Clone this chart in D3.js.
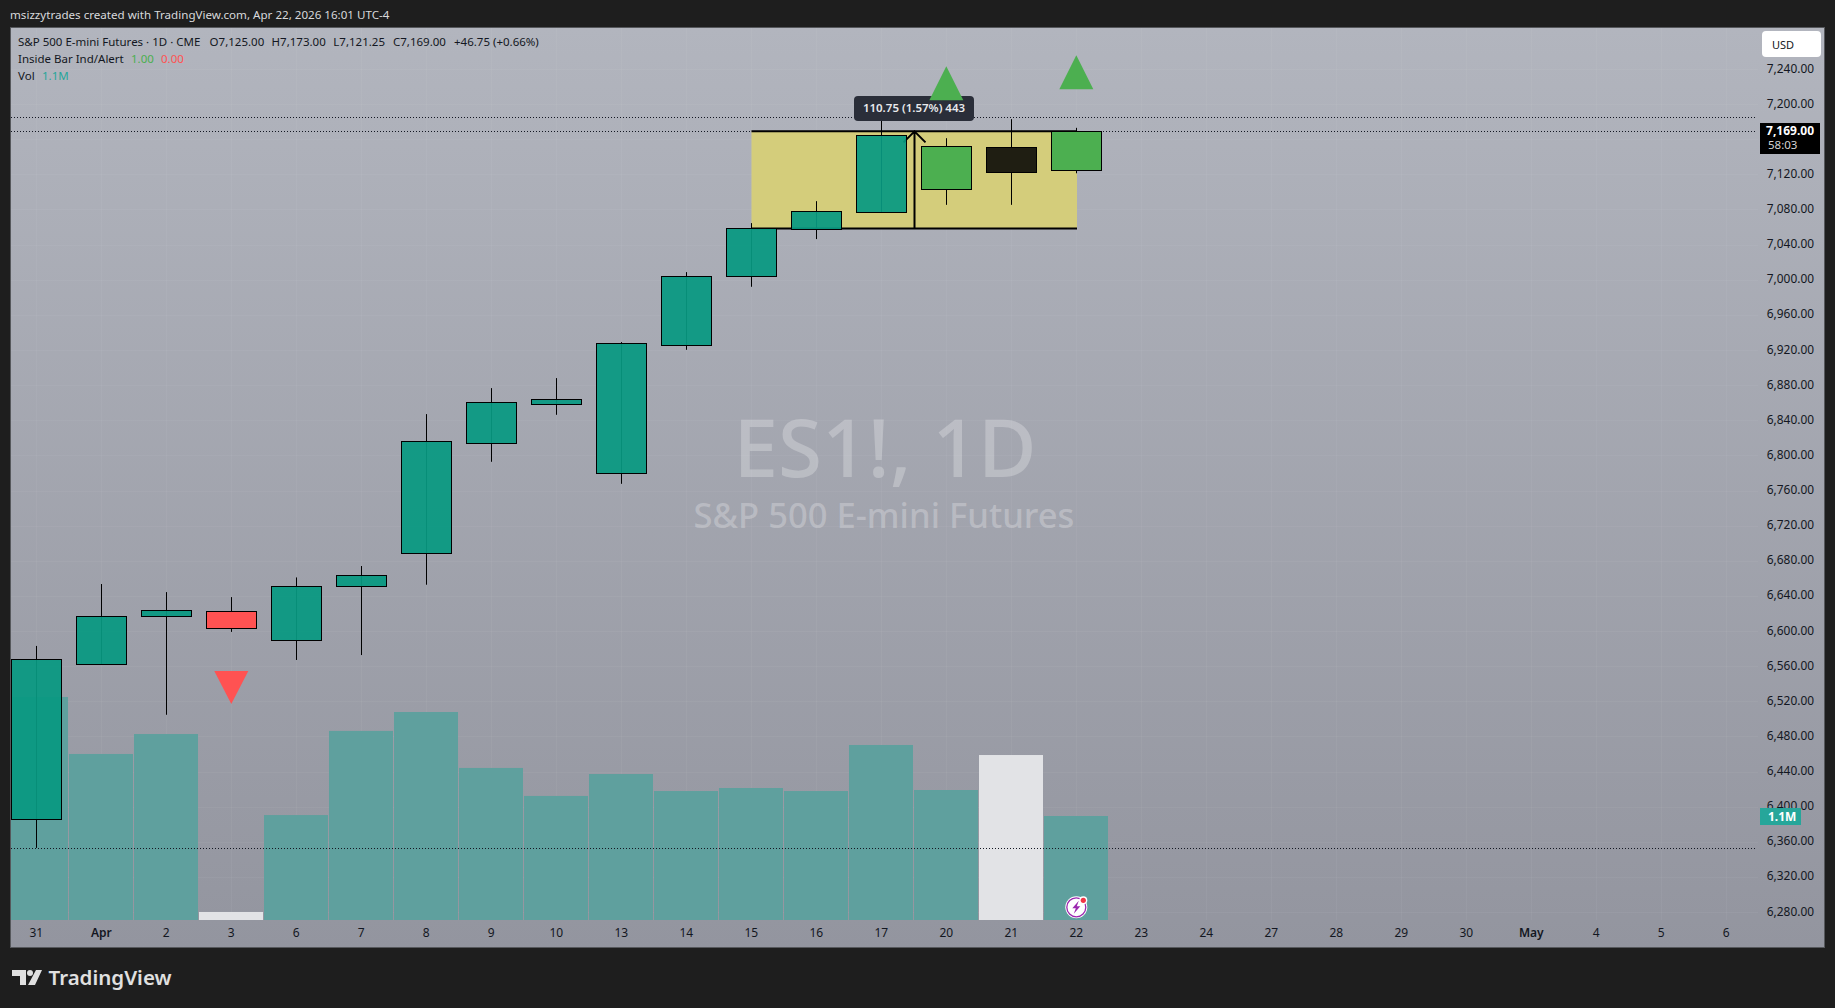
<!doctype html>
<html lang="en">
  <head>
    <meta charset="utf-8">
    <title>ES1! 1D</title>
    <style>
      html, body { margin: 0; padding: 0; background: #1e1e1e; overflow: hidden; }
      text { font-family: "Noto Sans", sans-serif; }
    </style>
  </head>
  <body>
    <script src="https://cdn.jsdelivr.net/npm/d3@7"></script>
    <script>
      var dates = ["03-31","04-01","04-02","04-03","04-06","04-07","04-08","04-09","04-10","04-13","04-14","04-15","04-16","04-17","04-20","04-21","04-22",
                   "04-23","04-24","04-27","04-28","04-29","04-30","05-01","05-04","05-05","05-06"];
      var dayLabels = ["31","Apr","2","3","6","7","8","9","10","13","14","15","16","17","20","21","22","23","24","27","28","29","30","May","4","5","6"];

      var opens  = [6385.5,6562,6617.4,6622.4,6589.3,6650.8,6688.4,6813.6,6858,6779.5,6925.6,7003.8,7057.3,7076.7,7102.8,7122.2,7125];
      var highs  = [6583,6653.5,6644.3,6638.6,6661,6674,6847,6876.6,6888,6929,7008.7,7064.5,7089.5,7185.7,7161.2,7182.9,7173];
      var lows   = [6353,6562,6504.6,6599,6567,6572.6,6652.7,6792.7,6846.2,6767.6,6920.2,6992,7046.3,7076.7,7085.3,7085.3,7121.25];
      var closes = [6567.7,6616.7,6623.5,6603,6650.8,6663.4,6816,6860.3,6863.7,6927.8,7003.8,7058.4,7077.8,7164.3,7151.8,7150.7,7169];
      var kinds  = ["up","up","up","down","up","up","up","up","up","up","up","up","up","up","inside","dark","inside"];

      // volume in millions
      var volumes = [2.359,1.756,1.967,0.085,1.11,2.0,2.2,1.608,1.312,1.544,1.364,1.396,1.364,1.851,1.375,1.745,1.1];
      var volKinds = ["up","up","up","white","up","up","up","up","up","up","up","up","up","up","up","white","up"];

      var priceTicks = [7240,7200,7120,7080,7040,7000,6960,6920,6880,6840,6800,6760,6720,6680,6640,6600,6560,6520,6480,6440,6400,6360,6320,6280];
      var gridPrices = [7240,7200,7160,7120,7080,7040,7000,6960,6920,6880,6840,6800,6760,6720,6680,6640,6600,6560,6520,6480,6440,6400,6360,6320,6280];

      var upMarks = [{i: 14, price: 7204.5}, {i: 16, price: 7217}];
      var downMarks = [{i: 3, price: 6554.4}];

      var lastClose = 7169, rangeHigh = 7185.7, rangeLow = 6353;
      var boxTop = 7169, boxBottom = 7058.25;

      var width = 1835, height = 1008;
      var plot = {left: 11, top: 28, right: 1758, bottom: 920};

      var svg = d3.select("body").append("svg")
        .attr("width", width)
        .attr("height", height)
        .style("display", "block");

      var defs = svg.append("defs");
      var grad = defs.append("linearGradient").attr("id", "bg").attr("x1", 0).attr("y1", 0).attr("x2", 0).attr("y2", 1);
      grad.append("stop").attr("offset", "0%").attr("stop-color", "#b2b5be");
      grad.append("stop").attr("offset", "100%").attr("stop-color", "#93959f");
      defs.append("clipPath").attr("id", "plotclip").append("rect")
        .attr("x", plot.left).attr("y", plot.top)
        .attr("width", plot.right - plot.left).attr("height", plot.bottom - plot.top);

      // scales
      var x = d3.scaleBand()
        .domain(dates)
        .range([3.8, 1758.8])
        .paddingInner(1 / 65)
        .paddingOuter(1 / 130);
      var cx = function(i){ return Math.floor(x(dates[i]) + x.bandwidth() / 2) + 0.5; };

      var y = d3.scaleLinear()
        .domain([6280, 7240])
        .range([912, 69]);
      var yVol = d3.scaleLinear()
        .domain([0, 1.1])
        .range([920, 816]);

      // frame
      svg.append("rect")
        .attr("x", 10.5).attr("y", 27.5)
        .attr("width", 1814).attr("height", 920)
        .attr("fill", "url(#bg)")
        .attr("stroke", "#56585c");

      // grid
      var grid = svg.append("g").attr("stroke", "#ffffff").attr("stroke-opacity", 0.045);
      grid.selectAll(".vg").data(dates).enter().append("line")
        .attr("x1", function(d, i){ return cx(i); })
        .attr("x2", function(d, i){ return cx(i); })
        .attr("y1", plot.top).attr("y2", plot.bottom);
      grid.selectAll(".hg").data(gridPrices).enter().append("line")
        .attr("x1", plot.left).attr("x2", plot.right)
        .attr("y1", function(d){ return Math.round(y(d)) + 0.5; })
        .attr("y2", function(d){ return Math.round(y(d)) + 0.5; });

      // watermark
      svg.append("text").attr("x", 885).attr("y", 477)
        .attr("text-anchor", "middle").attr("font-size", 80).attr("font-weight", 500)
        .attr("fill", "#ffffff").attr("fill-opacity", 0.26)
        .text("ES1!, 1D");
      svg.append("text").attr("x", 884).attr("y", 528)
        .attr("text-anchor", "middle").attr("font-size", 34.6).attr("font-weight", 500)
        .attr("fill", "#ffffff").attr("fill-opacity", 0.26)
        .text("S&P 500 E-mini Futures");

      var chart = svg.append("g").attr("clip-path", "url(#plotclip)");

      // volume
      var volColor = {up: "#5fa09e", white: "#e2e3e6"};
      chart.selectAll(".vol").data(volumes).enter().append("rect")
        .attr("x", function(d, i){ return Math.floor(x(dates[i])); })
        .attr("width", 64)
        .attr("y", function(d){ return yVol(d); })
        .attr("height", function(d){ return 920 - yVol(d); })
        .attr("fill", function(d, i){ return volColor[volKinds[i]]; });

      // dotted price lines
      [rangeHigh, lastClose, rangeLow].forEach(function(p){
        chart.append("line")
          .attr("x1", plot.left).attr("x2", 1757)
          .attr("y1", Math.round(y(p)) + 0.5).attr("y2", Math.round(y(p)) + 0.5)
          .attr("stroke", "#131722")
          .attr("stroke-dasharray", "1 2");
      });

      // yellow box
      var boxLeft = cx(11), boxRight = cx(16) + 0.5;
      chart.append("rect")
        .attr("x", boxLeft)
        .attr("width", boxRight - boxLeft)
        .attr("y", y(boxTop))
        .attr("height", y(boxBottom) - y(boxTop))
        .attr("fill", "#d4cd7b");
      [boxTop, boxBottom].forEach(function(p){
        chart.append("line")
          .attr("x1", boxLeft)
          .attr("x2", boxRight)
          .attr("y1", y(p)).attr("y2", y(p))
          .attr("stroke", "#000").attr("stroke-width", 2);
      });

      // measure arrow
      var arrowX = (cx(13) + cx(14)) / 2 + 0.5;
      chart.append("path")
        .attr("d", "M" + arrowX + "," + y(boxBottom) + "V" + y(boxTop) +
                   "M" + (arrowX - 11) + "," + (y(boxTop) + 11) + "L" + arrowX + "," + y(boxTop) + "L" + (arrowX + 11) + "," + (y(boxTop) + 11))
        .attr("fill", "none").attr("stroke", "#000").attr("stroke-width", 2);

      // candles
      var candleFill = {up: "#089981", down: "#ff5252", inside: "#4caf50", dark: "#1f1e12"};
      var candles = chart.selectAll(".candle").data(opens).enter().append("g");
      candles.append("line")
        .attr("x1", function(d, i){ return cx(i); })
        .attr("x2", function(d, i){ return cx(i); })
        .attr("y1", function(d, i){ return y(highs[i]); })
        .attr("y2", function(d, i){ return y(lows[i]); })
        .attr("stroke", "#000");
      candles.append("rect")
        .attr("x", function(d, i){ return cx(i) - 25; })
        .attr("width", 50)
        .attr("y", function(d, i){ return Math.round(y(Math.max(opens[i], closes[i]))) + 0.5; })
        .attr("height", function(d, i){ return Math.round(y(Math.min(opens[i], closes[i]))) - Math.round(y(Math.max(opens[i], closes[i]))); })
        .attr("fill", function(d, i){ return candleFill[kinds[i]]; })
        .attr("fill-opacity", function(d, i){ return kinds[i] == "up" ? 0.93 : 1; })
        .attr("stroke", "#000");

      // measure tooltip
      svg.append("rect")
        .attr("x", 854).attr("y", 96).attr("width", 120).attr("height", 25).attr("rx", 4)
        .attr("fill", "#2a2e39");
      svg.append("text").attr("x", 914).attr("y", 112)
        .attr("text-anchor", "middle").attr("font-size", 11.5).attr("font-weight", 600)
        .attr("fill", "#e8e9ec")
        .text("110.75 (1.57%) 443");

      // inside bar markers
      svg.selectAll(".um").data(upMarks).enter().append("path")
        .attr("d", function(d){
          var c = x(dates[d.i]) + x.bandwidth() / 2, b = y(d.price);
          return "M" + c + "," + (b - 34) + "L" + (c + 17) + "," + b + "L" + (c - 17) + "," + b + "Z";
        })
        .attr("fill", "#4caf50");
      svg.selectAll(".dm").data(downMarks).enter().append("path")
        .attr("d", function(d){
          var c = x(dates[d.i]) + x.bandwidth() / 2, b = y(d.price);
          return "M" + c + "," + (b + 33) + "L" + (c + 17) + "," + b + "L" + (c - 17) + "," + b + "Z";
        })
        .attr("fill", "#ff5252");

      // axes
      var axisR = svg.append("g")
        .attr("transform", "translate(1814,-0.8)")
        .call(d3.axisRight(y).tickValues(priceTicks).tickFormat(d3.format(",.2f")).tickSize(0).tickPadding(0));
      axisR.select(".domain").remove();
      axisR.selectAll("text")
        .attr("text-anchor", "end")
        .attr("font-size", 11.9)
        .attr("font-family", '"Noto Sans", sans-serif')
        .attr("fill", "#131722");

      var axisB = svg.append("g")
        .attr("transform", "translate(0,922.5)")
        .call(d3.axisBottom(x).tickFormat(function(d, i){ return dayLabels[i]; }).tickSize(0).tickPadding(6));
      axisB.select(".domain").remove();
      axisB.selectAll("text")
        .attr("font-size", 12)
        .attr("font-family", '"Noto Sans", sans-serif')
        .attr("font-weight", function(d, i){ return dayLabels[i] == "Apr" || dayLabels[i] == "May" ? 600 : 400; })
        .attr("fill", "#131722");

      // USD button
      svg.append("rect").attr("x", 1762).attr("y", 31).attr("width", 59).attr("height", 26).attr("rx", 4).attr("fill", "#fff");
      svg.append("text").attr("x", 1772).attr("y", 48.5).attr("font-size", 11).attr("fill", "#131722").text("USD");

      // last price label
      svg.append("rect").attr("x", 1760).attr("y", 123).attr("width", 60).attr("height", 31).attr("fill", "#000");
      svg.append("text").attr("x", 1814).attr("y", 135).attr("text-anchor", "end").attr("font-size", 12).attr("font-weight", 700).attr("fill", "#fff")
        .text(d3.format(",.2f")(lastClose));
      svg.append("text").attr("x", 1768).attr("y", 149).attr("font-size", 11.5).attr("fill", "#d4d4d4").text("58:03");

      // volume label
      svg.append("rect").attr("x", 1760).attr("y", 808).attr("width", 41).attr("height", 17).attr("fill", "#26a69a");
      svg.append("text").attr("x", 1768).attr("y", 821).attr("font-size", 12).attr("font-weight", 700).attr("fill", "#fff").text("1.1M");

      // lightning badge
      var badge = svg.append("g").attr("transform", "translate(1076.3,907.3)");
      badge.append("circle").attr("r", 11).attr("fill", "#fff");
      badge.append("circle").attr("r", 9.5).attr("fill", "#fff").attr("stroke", "#9c27b0").attr("stroke-width", 1.3);
      badge.append("path").attr("d", "M2.5,-6.5L-4,1H-0.5L-2.5,6.5L4,-1H0.5Z").attr("fill", "#9c27b0");
      badge.append("circle").attr("cx", 7).attr("cy", -7).attr("r", 4).attr("fill", "#fff");
      badge.append("circle").attr("cx", 7).attr("cy", -7).attr("r", 2.6).attr("fill", "#f23645");

      // header
      svg.append("text").attr("x", 10).attr("y", 19).attr("font-size", 11.6).attr("fill", "#d8d9dc")
        .text("msizzytrades created with TradingView.com, Apr 22, 2026 16:01 UTC-4");

      // legend
      var legend = [
        [18, 46, "S&P 500 E-mini Futures · 1D · CME", "#131722"],
        [209.6, 46, "O7,125.00", "#131722"],
        [271.6, 46, "H7,173.00", "#131722"],
        [333.3, 46, "L7,121.25", "#131722"],
        [393, 46, "C7,169.00", "#131722"],
        [454, 46, "+46.75 (+0.66%)", "#131722"],
        [18, 63, "Inside Bar Ind/Alert", "#131722"],
        [131, 63, "1.00", "#4caf50"],
        [161, 63, "0.00", "#ff5252"],
        [18, 80, "Vol", "#131722"],
        [42, 80, "1.1M", "#26a69a"]
      ];
      svg.selectAll(".lg").data(legend).enter().append("text")
        .attr("x", function(d){ return d[0]; })
        .attr("y", function(d){ return d[1]; })
        .attr("fill", function(d){ return d[3]; })
        .attr("font-size", 11.5)
        .text(function(d){ return d[2]; });

      // footer logo
      var logo = svg.append("g").attr("fill", "#e0e0e0");
      logo.append("path").attr("d", "M12,970H26V985H20V976H12Z");
      logo.append("circle").attr("cx", 30).attr("cy", 973).attr("r", 3);
      logo.append("path").attr("d", "M36,970H42L35,985H28Z");
      logo.append("text").attr("x", 48.5).attr("y", 985).attr("font-size", 20.5).attr("font-weight", 600).text("TradingView");
    </script>
  </body>
</html>
